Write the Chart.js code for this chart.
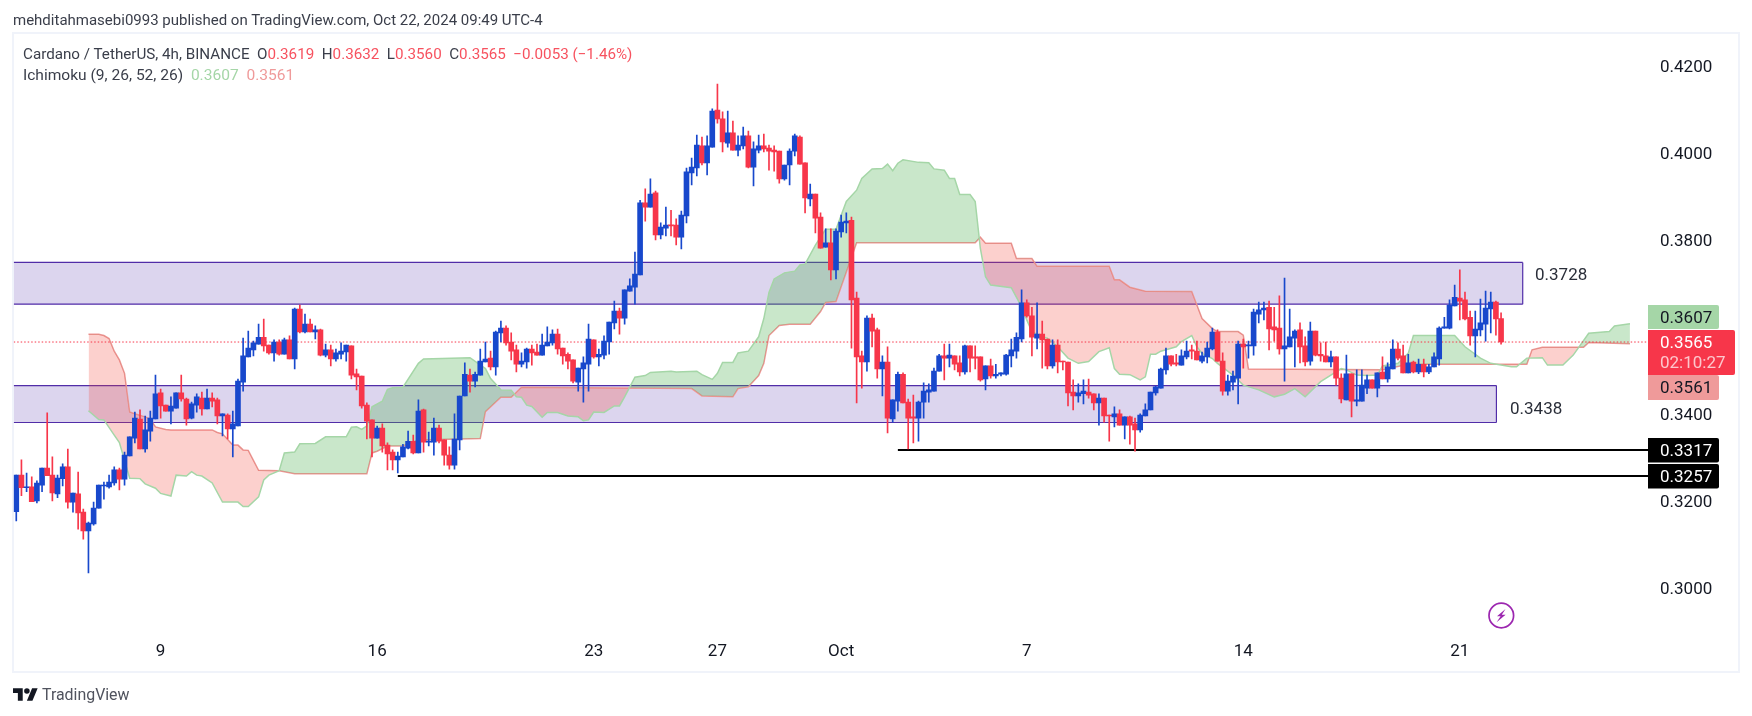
<!DOCTYPE html>
<html>
<head>
<meta charset="utf-8">
<title>Cardano / TetherUS</title>
<script src="https://cdn.jsdelivr.net/npm/chart.js@4"></script>
<style>
html,body{margin:0;padding:0;background:#fff;width:1752px;height:716px;overflow:hidden;font-family:Roboto,sans-serif;color:#3a3e4a}
#frame{position:absolute;left:12px;top:32px;width:1724px;height:637px;border:2px solid #f0f3fa}
#c{position:absolute;left:0;top:0}
.t{position:absolute;white-space:pre;font-size:15px;line-height:20px}
.r{color:#f7525f}.g{color:#a5d6a7}.p{color:#ef9a9a}
#logo{position:absolute;left:13px;top:687px}
#foot{position:absolute;left:42px;top:684px;font-size:15.9px;line-height:21px;color:#50535e}
#bolt{position:absolute;left:1486px;top:600px}
</style>
</head>
<body>
<div id="frame"></div>
<canvas id="c" width="1752" height="716"></canvas>
<div class="t" style="left:13px;top:10px">mehditahmasebi0993 published on TradingView.com, Oct 22, 2024 09:49 UTC-4</div>
<div class="t" style="left:23px;top:44px;font-size:15.2px">Cardano / TetherUS, 4h, BINANCE  O<span class="r">0.3619</span>  H<span class="r">0.3632</span>  L<span class="r">0.3560</span>  C<span class="r">0.3565</span>  <span class="r">−0.0053 (−1.46%)</span></div>
<div class="t" style="left:23px;top:65px;font-size:15.55px">Ichimoku (9, 26, 52, 26)  <span class="g">0.3607</span>  <span class="p">0.3561</span></div>
<svg id="logo" width="25" height="15" viewBox="0 4 36 18"><path fill="#131722" d="M14 22H7V11H0V4h14v18zM28 22h-8l7.5-18h8L28 22z"/><circle fill="#131722" cx="20" cy="8" r="4"/></svg>
<div id="foot">TradingView</div>
<svg id="bolt" width="31" height="31" viewBox="0 0 31 31"><circle cx="15.3" cy="15.5" r="12.3" fill="none" stroke="#9c27b0" stroke-width="1.7"/><path fill="#9c27b0" d="M19.5 9l-8.5 7.2h3.6l-4 6 9-7.4h-3.8z"/></svg>
<script>
const opens=[.3175,.3259,.3230,.3232,.3200,.3236,.3275,.3259,.3216,.3251,
.3278,.3197,.3216,.3174,.3131,.3147,.3183,.3234,.3232,.3241,
.3271,.3250,.3303,.3344,.3388,.3319,.3360,.3388,.3448,.3420,
.3406,.3413,.3448,.3434,.3390,.3420,.3436,.3411,.3436,.3432,
.3395,.3397,.3365,.3372,.3473,.3531,.3547,.3560,.3576,.3558,
.3540,.3565,.3537,.3570,.3526,.3641,.3588,.3606,.3588,.3593,
.3535,.3547,.3526,.3537,.3542,.3556,.3492,.3487,.3420,.3386,
.3344,.3367,.3328,.3312,.3294,.3301,.3321,.3337,.3310,.3409,
.3335,.3335,.3367,.3340,.3305,.3282,.3340,.3441,.3489,.3475,
.3489,.3519,.3528,.3508,.3586,.3597,.3565,.3547,.3514,.3519,
.3549,.3542,.3535,.3556,.3563,.3583,.3551,.3537,.3524,.3473,
.3503,.3514,.3570,.3531,.3535,.3565,.3609,.3636,.3620,.3682,
.3691,.3719,.3885,.3875,.3908,.3811,.3827,.3834,.3834,.3806,
.3855,.3954,.3965,.4016,.3977,.4013,.4098,.4078,.4022,.4046,
.4006,.4016,.4039,.3967,.4006,.4016,.4011,.4006,.4004,.3940,
.3972,.4004,.4036,.3977,.3894,.3905,.3852,.3783,.3793,.3731,
.3818,.3839,.3845,.3666,.3533,.3519,.3620,.3593,.3503,.3519,
.3388,.3429,.3491,.3427,.3393,.3390,.3427,.3450,.3452,.3498,
.3533,.3528,.3533,.3517,.3496,.3556,.3531,.3531,.3480,.3510,
.3487,.3491,.3491,.3533,.3544,.3572,.3655,.3625,.3574,.3583,
.3572,.3510,.3558,.3521,.3519,.3450,.3441,.3446,.3450,.3446,
.3425,.3436,.3397,.3393,.3400,.3374,.3393,.3377,.3363,.3395,
.3409,.3448,.3459,.3501,.3533,.3517,.3512,.3531,.3547,.3544,
.3521,.3531,.3549,.3588,.3521,.3452,.3473,.3482,.3560,.3556,
.3556,.3629,.3639,.3645,.3600,.3597,.3549,.3554,.3574,.3593,
.3556,.3521,.3590,.3537,.3533,.3519,.3531,.3482,.3432,.3492,
.3429,.3429,.3459,.3478,.3459,.3496,.3480,.3503,.3549,.3533,
.3494,.3519,.3496,.3514,.3496,.3508,.3526,.3597,.3597,.3648,
.3666,.3662,.3622,.3579,.3593,.3606,.3641,.3657,.3619];
const highs=[.3259,.3294,.3264,.3255,.3246,.3275,.3402,.3301,.3259,.3285,
.3319,.3218,.3266,.3181,.3151,.3197,.3236,.3243,.3259,.3278,
.3275,.3312,.3347,.3404,.3409,.3395,.3406,.3489,.3457,.3420,
.3439,.3448,.3489,.3436,.3427,.3446,.3450,.3457,.3448,.3436,
.3400,.3400,.3406,.3480,.3574,.3590,.3567,.3606,.3618,.3558,
.3570,.3570,.3574,.3579,.3643,.3650,.3629,.3618,.3602,.3595,
.3560,.3558,.3549,.3563,.3558,.3556,.3503,.3487,.3425,.3386,
.3372,.3377,.3333,.3317,.3312,.3330,.3360,.3351,.3432,.3411,
.3358,.3390,.3374,.3340,.3324,.3400,.3441,.3517,.3503,.3496,
.3549,.3565,.3544,.3590,.3613,.3602,.3586,.3558,.3540,.3551,
.3558,.3560,.3583,.3600,.3593,.3595,.3551,.3540,.3524,.3505,
.3531,.3606,.3570,.3549,.3579,.3611,.3659,.3643,.3685,.3710,
.3772,.3891,.3917,.3940,.3912,.3839,.3875,.3868,.3848,.3866,
.3965,.3988,.4041,.4036,.4039,.4101,.4158,.4094,.4096,.4073,
.4039,.4059,.4050,.4025,.4041,.4043,.4018,.4016,.4004,.3972,
.4009,.4043,.4039,.3977,.3928,.3905,.3862,.3825,.3825,.3825,
.3857,.3862,.3852,.3680,.3544,.3625,.3629,.3597,.3533,.3554,
.3432,.3496,.3494,.3434,.3443,.3429,.3471,.3469,.3505,.3537,
.3560,.3560,.3533,.3533,.3558,.3556,.3556,.3531,.3510,.3526,
.3514,.3494,.3537,.3572,.3586,.3685,.3662,.3645,.3655,.3613,
.3572,.3570,.3570,.3521,.3519,.3478,.3469,.3478,.3480,.3446,
.3446,.3436,.3397,.3416,.3409,.3393,.3395,.3390,.3400,.3423,
.3450,.3464,.3505,.3551,.3533,.3537,.3547,.3567,.3558,.3567,
.3542,.3565,.3597,.3593,.3540,.3489,.3498,.3567,.3572,.3567,
.3641,.3657,.3657,.3659,.3645,.3671,.3712,.3641,.3593,.3609,
.3577,.3611,.3590,.3563,.3565,.3544,.3531,.3492,.3535,.3492,
.3501,.3501,.3489,.3478,.3494,.3531,.3517,.3570,.3563,.3558,
.3537,.3521,.3526,.3526,.3514,.3540,.3600,.3622,.3662,.3696,
.3731,.3680,.3636,.3636,.3664,.3682,.3680,.3659,.3632];
const lows=[.3154,.3212,.3221,.3198,.3195,.3221,.3258,.3200,.3207,.3234,
.3183,.3174,.3135,.3112,.3034,.3144,.3183,.3204,.3229,.3236,
.3225,.3236,.3303,.3333,.3319,.3312,.3337,.3388,.3390,.3406,
.3377,.3413,.3429,.3374,.3388,.3404,.3397,.3411,.3416,.3377,
.3349,.3342,.3301,.3372,.3452,.3531,.3533,.3560,.3544,.3537,
.3521,.3535,.3537,.3526,.3503,.3586,.3586,.3588,.3572,.3533,
.3531,.3510,.3521,.3526,.3521,.3480,.3455,.3413,.3342,.3301,
.3344,.3312,.3271,.3271,.3264,.3301,.3319,.3308,.3310,.3312,
.3326,.3305,.3333,.3282,.3273,.3273,.3317,.3441,.3450,.3462,
.3489,.3519,.3501,.3489,.3565,.3558,.3524,.3496,.3508,.3505,
.3512,.3535,.3535,.3556,.3558,.3537,.3514,.3503,.3471,.3452,
.3427,.3452,.3528,.3510,.3526,.3537,.3595,.3583,.3606,.3682,
.3652,.3719,.3843,.3875,.3800,.3802,.3809,.3809,.3788,.3779,
.3839,.3926,.3947,.3972,.3949,.4013,.4068,.4002,.4013,.4006,
.3993,.4009,.3965,.3924,.4000,.4002,.3960,.3958,.3930,.3937,
.3926,.3993,.3974,.3862,.3878,.3816,.3781,.3783,.3708,.3710,
.3806,.3816,.3551,.3425,.3459,.3498,.3554,.3482,.3441,.3356,
.3381,.3406,.3425,.3319,.3333,.3337,.3390,.3427,.3452,.3498,
.3478,.3508,.3501,.3487,.3491,.3496,.3503,.3475,.3455,.3482,
.3482,.3487,.3489,.3508,.3528,.3565,.3622,.3533,.3549,.3505,
.3503,.3505,.3494,.3501,.3418,.3409,.3427,.3423,.3436,.3409,
.3374,.3381,.3337,.3370,.3374,.3342,.3330,.3314,.3358,.3395,
.3409,.3443,.3459,.3491,.3510,.3510,.3512,.3526,.3526,.3524,
.3517,.3517,.3547,.3521,.3443,.3443,.3455,.3423,.3505,.3528,
.3535,.3609,.3616,.3547,.3567,.3537,.3475,.3554,.3508,.3517,
.3510,.3512,.3533,.3521,.3519,.3508,.3466,.3425,.3432,.3393,
.3418,.3429,.3446,.3459,.3439,.3480,.3473,.3503,.3524,.3494,
.3494,.3494,.3492,.3485,.3492,.3508,.3512,.3597,.3595,.3648,
.3616,.3616,.3558,.3531,.3579,.3567,.3586,.3581,.3560];
const closes=[.3259,.3230,.3232,.3198,.3241,.3275,.3258,.3218,.3252,.3278,
.3197,.3218,.3172,.3131,.3149,.3183,.3236,.3236,.3243,.3271,
.3250,.3305,.3347,.3390,.3319,.3363,.3390,.3446,.3418,.3406,
.3418,.3448,.3434,.3388,.3423,.3439,.3411,.3436,.3429,.3395,
.3400,.3365,.3377,.3475,.3533,.3551,.3563,.3576,.3556,.3540,
.3565,.3537,.3570,.3526,.3641,.3588,.3606,.3588,.3593,.3535,
.3547,.3526,.3540,.3544,.3558,.3489,.3485,.3418,.3383,.3344,
.3367,.3326,.3308,.3294,.3303,.3324,.3337,.3310,.3406,.3335,
.3337,.3367,.3337,.3305,.3282,.3342,.3441,.3491,.3475,.3491,
.3521,.3526,.3508,.3588,.3597,.3563,.3544,.3514,.3521,.3549,
.3540,.3535,.3558,.3565,.3583,.3549,.3533,.3521,.3475,.3505,
.3517,.3572,.3531,.3537,.3567,.3611,.3636,.3620,.3685,.3694,
.3721,.3885,.3875,.3905,.3811,.3829,.3834,.3832,.3806,.3857,
.3956,.3967,.4018,.3977,.4016,.4096,.4078,.4025,.4046,.4006,
.4018,.4039,.3967,.4009,.4016,.4009,.4004,.4002,.3940,.3972,
.4004,.4039,.3974,.3896,.3905,.3850,.3781,.3793,.3731,.3820,
.3841,.3843,.3662,.3531,.3519,.3620,.3590,.3503,.3519,.3390,
.3432,.3491,.3425,.3390,.3390,.3427,.3452,.3455,.3498,.3533,
.3528,.3535,.3514,.3496,.3556,.3528,.3528,.3478,.3510,.3487,
.3491,.3494,.3535,.3547,.3576,.3655,.3625,.3576,.3583,.3570,
.3510,.3558,.3519,.3519,.3448,.3441,.3448,.3452,.3443,.3425,
.3436,.3395,.3395,.3400,.3374,.3393,.3374,.3363,.3397,.3409,
.3450,.3462,.3503,.3533,.3514,.3514,.3533,.3544,.3544,.3524,
.3533,.3551,.3588,.3521,.3452,.3475,.3487,.3560,.3554,.3558,
.3634,.3639,.3643,.3595,.3593,.3549,.3556,.3577,.3590,.3554,
.3519,.3590,.3535,.3533,.3519,.3531,.3482,.3434,.3492,.3429,
.3432,.3466,.3478,.3459,.3494,.3480,.3508,.3549,.3528,.3494,
.3517,.3496,.3514,.3496,.3508,.3531,.3597,.3600,.3650,.3668,
.3659,.3618,.3579,.3595,.3609,.3643,.3657,.3618,.3565];

const spanAIdx=[14,16,17,19,20,22,24,25,27,28,30,31,33,34,35,36,38,40,43,44,45,47,48,49,51,52,54,55,58,60,64,65,66,67,68,69,71,72,73,75,78,79,88,
91,92,94,96,97,98,99,100,102,103,105,107,109,110,111,112,114,116,117,118,120,122,123,127,128,132,133,135,136,137,139,140,142,144,145,146,147,149,151,152,153,155,157,159,161,163,164,166,168,169,170,171,172,175,177,178,180,181,182,183,185,186,187,188,189,193,195,196,197,199,200,202,204,206,208,210,212,213,214,216,218,219,220,221,222,225,226,228,229,230,232,233,236,238,241,244,246,248,250,253,257,258,260,262,264,265,268,270,271,279,281,284,286,290,291,293,296,297,300,302,305,309,310,313];
const spanAVal=[.3407,.3387,.3386,.3351,.3334,.3252,.3251,.3239,.3229,.3217,.3211,.3259,.3257,.3267,.3259,.3257,.3241,.3197,.3197,.3187,.3187,.3209,.3248,.3259,.3269,.3310,.3312,.3331,.3332,.3347,.3347,.3369,.3370,.3364,.3372,.3416,.3429,.3456,.3460,.3461,.3516,.3526,.3529,
.3504,.3481,.3455,.3454,.3439,.3438,.3420,.3417,.3392,.3403,.3403,.3395,.3393,.3384,.3386,.3404,.3403,.3418,.3418,.3439,.3484,.3488,.3495,.3498,.3496,.3498,.3490,.3479,.3493,.3518,.3518,.3540,.3544,.3577,.3619,.3679,.3710,.3724,.3728,.3742,.3744,.3788,.3824,.3824,.3888,.3914,.3941,.3963,.3964,.3974,.3959,.3976,.3984,.3978,.3977,.3963,.3960,.3941,.3941,.3904,.3904,.3888,.3780,.3715,.3696,.3690,.3646,.3616,.3589,.3577,.3574,.3554,.3528,.3516,.3520,.3543,.3552,.3504,.3491,.3490,.3478,.3485,.3537,.3537,.3544,.3554,.3566,.3580,.3554,.3539,.3527,.3516,.3489,.3466,.3455,.3439,.3445,.3458,.3439,.3474,.3504,.3501,.3489,.3488,.3489,.3510,.3516,.3539,.3580,.3580,.3554,.3528,.3516,.3508,.3508,.3528,.3529,.3512,.3512,.3535,.3585,.3589,.3602,.3607];
const spanBIdx=[14,16,17,18,19,20,21,22,23,25,26,27,29,30,38,39,40,42,43,44,45,47,51,54,68,69,70,72,75,78,90,91,94,96,98,131,133,139,140,142,144,145,146,148,150,154,156,157,159,163,186,187,188,193,194,197,198,212,213,214,216,219,228,229,230,232,233,237,238,239,265,270,293,294,296,304,305,313];
const spanBVal=[.3583,.3583,.3580,.3573,.3544,.3524,.3493,.3404,.3400,.3393,.3388,.3370,.3364,.3363,.3363,.3357,.3354,.3328,.3328,.3317,.3316,.3270,.3269,.3262,.3262,.3310,.3314,.3326,.3326,.3340,.3343,.3405,.3438,.3438,.3461,.3458,.3441,.3439,.3458,.3462,.3488,.3516,.3580,.3603,.3606,.3606,.3635,.3656,.3658,.3793,.3793,.3806,.3792,.3792,.3757,.3757,.3739,.3739,.3708,.3708,.3691,.3682,.3681,.3650,.3619,.3596,.3589,.3589,.3581,.3503,.3501,.3514,.3514,.3547,.3553,.3553,.3564,.3561];

const upperZone=[.3748,.3652], upperZoneEnd=292.2;
const lowerZone=[.3465,.3380], lowerZoneEnd=287.1;
const levels=[.3317,.3257], levelStarts=[171,74];
const lastPrice=.3565;
const xTickIdx=[28,70,112,136,160,196,238,280];
const xTickText=['9','16','23','27','Oct','7','14','21'];
const yTicks=[.42,.40,.38,.34,.32,.30];
const XMIN=-0.5, XMAX=316.5, YMIN=.28984, YMAX=.42754;

const UP='#1848cc', DOWN='#f7364a', INK='#131722';
const FONT='Roboto, sans-serif';
const ZONE='rgba(81,45,168,0.2)', ZONEB='#512da8';
const pts=(xs,ys)=>xs.map((x,i)=>({x,y:ys[i]}));
const hline=(a,b,v)=>pts([a,b],[v,v]);
const base={type:'line',pointRadius:0,pointHoverRadius:0,tension:0,fill:false};
const zone=(z,end)=>[
  {...base,data:hline(XMIN,end,z[0]),borderColor:ZONEB,borderWidth:1.2},
  {...base,data:hline(XMIN,end,z[1]),borderColor:ZONEB,borderWidth:1.2},
  {...base,data:pts([end,end],z),borderColor:ZONEB,borderWidth:1.2}
];
const colors=closes.map((c,i)=>c>=opens[i]?UP:DOWN);
const ds=[
  ...zone(upperZone,upperZoneEnd),
  ...zone(lowerZone,lowerZoneEnd),
  {...base,data:pts(spanBIdx,spanBVal),borderColor:'#ef9a9a',borderWidth:1.5},
  {...base,data:pts(spanAIdx,spanAVal),borderColor:'#a5d6a7',borderWidth:1.5},
  {...base,data:hline(XMIN,XMAX,lastPrice),borderColor:DOWN,borderWidth:1,borderDash:[1.5,2]},
  {...base,data:hline(levelStarts[0],XMAX,levels[0]),borderColor:'#000',borderWidth:2},
  {...base,data:hline(levelStarts[1],XMAX,levels[1]),borderColor:'#000',borderWidth:2},
  {type:'bar',data:lows.map((l,i)=>({x:i,y:[l,highs[i]]})),backgroundColor:colors,barThickness:1,grouped:false},
  {type:'bar',data:opens.map((o,i)=>({x:i,y:[o,closes[i]]})),backgroundColor:colors,barThickness:5,minBarLength:1,grouped:false}
];
ds[0].fill=1; ds[0].backgroundColor=ZONE;
ds[3].fill=4; ds[3].backgroundColor=ZONE;
ds[7].fill={target:6,above:'rgba(76,175,80,0.3)',below:'rgba(244,67,54,0.25)'};
ds.forEach((d,i)=>{d.order=ds.length-i;});

const priceTags=[
  {t:'0.3607',y0:305,y1:329,r:1719,bg:'#a5d6a7',fg:INK},
  {t:'0.3561',y0:375,y1:400,r:1719,bg:'#ef9a9a',fg:INK},
  {t:'0.3317',y0:438,y1:462.5,r:1719,bg:'#000',fg:'#fff'},
  {t:'0.3257',y0:464,y1:488.5,r:1719,bg:'#000',fg:'#fff'}
];
const notes=[{t:'0.3728',x:1535,y:276},{t:'0.3438',x:1510,y:409.5}];
const tagPlugin={id:'tags',afterDraw(ch){
  const c=ch.ctx,L=ch.chartArea.right;
  c.save();c.textBaseline='middle';c.textAlign='left';c.font='17px '+FONT;
  priceTags.forEach(p=>{
    c.fillStyle=p.bg;c.beginPath();c.roundRect(L,p.y0,p.r-L,p.y1-p.y0,[0,2,2,0]);c.fill();
    c.fillStyle=p.fg;c.fillText(p.t,1660,(p.y0+p.y1)/2+1.5);
  });
  c.fillStyle=DOWN;c.beginPath();c.roundRect(L,330,1735-L,45,[0,2,2,0]);c.fill();
  c.fillStyle='#fff';c.fillText('0.3565',1660,344);
  c.fillStyle='rgba(255,255,255,.72)';c.fillText('02:10:27',1660,364);
  c.fillStyle='#2a2e39';notes.forEach(n=>c.fillText(n.t,n.x,n.y));
  c.restore();
}};

new Chart(document.getElementById('c'),{
  type:'bar',
  data:{datasets:ds},
  plugins:[tagPlugin],
  options:{
    responsive:false,animation:false,events:[],
    layout:{padding:{left:13.7,right:14,top:33,bottom:44}},
    plugins:{legend:{display:false},tooltip:{enabled:false},title:{display:false}},
    scales:{
      x:{type:'linear',min:XMIN,max:XMAX,offset:false,
        grid:{display:false,drawTicks:false},border:{display:false},
        afterBuildTicks(s){s.ticks=xTickIdx.map(v=>({value:v}));},
        afterFit(s){s.height=40;},
        ticks:{autoSkip:false,maxRotation:0,padding:10,color:INK,font:{family:FONT,size:17},
          callback:v=>xTickText[xTickIdx.indexOf(v)]}},
      y:{type:'linear',position:'right',min:YMIN,max:YMAX,
        grid:{display:false,drawTicks:false},border:{display:false},
        afterBuildTicks(s){s.ticks=yTicks.map(v=>({value:v}));},
        afterFit(s){s.width=90;},
        ticks:{padding:12,color:INK,font:{family:FONT,size:17,lineHeight:'3.4px'},callback:v=>['',v.toFixed(4)]}}
    }
  }
});
</script>
</body>
</html>
